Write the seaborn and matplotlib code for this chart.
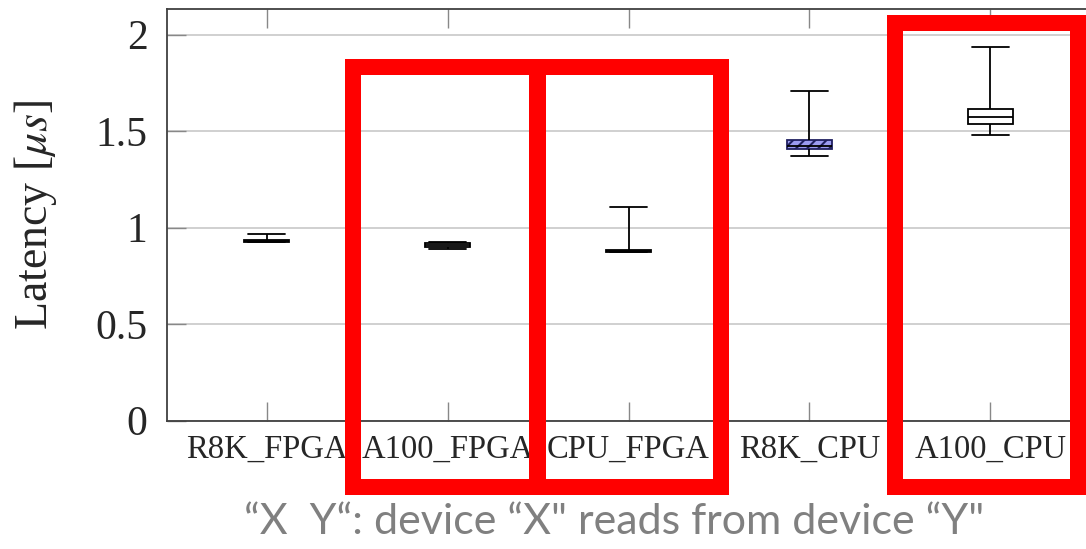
import pandas as pd
import numpy as np
import seaborn as sns
import matplotlib.pyplot as plt
from matplotlib.patches import Rectangle

# read direction "X_Y" : device X reads from device Y
links = ['R8K_FPGA', 'A100_FPGA', 'CPU_FPGA', 'R8K_CPU', 'A100_CPU']
# five number summaries (min, q1, median, q3, max), in us
lat_min = [0.926, 0.888, 0.874, 1.373, 1.480]
lat_q1 = [0.927, 0.902, 0.876, 1.408, 1.536]
lat_med = [0.932, 0.912, 0.879, 1.425, 1.572]
lat_q3 = [0.938, 0.922, 0.884, 1.454, 1.615]
lat_max = [0.966, 0.925, 1.109, 1.708, 1.938]
box_colors = ['white', 'white', 'white', '#9b9bf0', 'white']

y_ticks = [0, 0.5, 1, 1.5, 2]
caption = '\u201cX  Y\u201c: device \u201cX" reads from device \u201cY"'

rows = []
for i, name in enumerate(links):
    for v in (lat_min[i], lat_q1[i], lat_med[i], lat_q3[i], lat_max[i]):
        rows.append({'link': name, 'latency': v})
df = pd.DataFrame(rows)

sns.set_style('white')
plt.rcParams['font.family'] = ['Liberation Serif', 'DejaVu Serif']
plt.rcParams['mathtext.fontset'] = 'stix'
plt.rcParams['hatch.linewidth'] = 1.5

fig = plt.figure(figsize=(10.86, 5.49), dpi=100)
ax = fig.add_axes([167 / 1086, (549 - 420.7) / 549, (1090 - 167) / 1086, (420.7 - 9) / 549])

sns.boxplot(data=df, x='link', y='latency', order=links, hue='link', hue_order=links,
            palette=dict(zip(links, box_colors)), legend=False, saturation=1,
            whis=(0, 100), width=0.25, linecolor='black', linewidth=1.3,
            capwidths=0.2, ax=ax)

# hatched box for R8K_CPU
boxes = [p for p in ax.patches]
if len(boxes) == len(links):
    boxes[3].set_hatch('///')
    boxes[3].set_edgecolor('#202060')

ax.set_xlim(-0.55, 4.55)
ax.set_ylim(0, 2.133)
ax.set_yticks(y_ticks)
ax.set_yticklabels(['0', '0.5', '1', '1.5', '2'])
ax.yaxis.grid(True, color='#c8c8c8', linewidth=1.2)
ax.set_axisbelow(True)
ax.set_xlabel('')
ax.set_ylabel('Latency [$\\mathit{\\mu s}$]', fontsize=33, labelpad=26)
ax.tick_params(axis='x', direction='in', length=14, width=1, color='#888888',
               top=True, bottom=True, labelsize=23.5, pad=10)
ax.tick_params(axis='y', direction='in', length=14, width=1, color='#888888',
               left=True, right=True, labelsize=30, pad=14)
for s in ax.spines.values():
    s.set_color('#404040')
    s.set_linewidth(1.3)

# red highlight frames (pixel coordinates of the figure)
W, H = 1086, 549
lw_px = 16
frames = [(345, 59, 546, 495), (529, 59, 729, 495), (887, 15, 1086, 495)]
for x0, y0, x1, y1 in frames:
    fig.patches.append(Rectangle(((x0 + lw_px / 2) / W, 1 - (y1 - lw_px / 2) / H),
                                 (x1 - x0 - lw_px) / W, (y1 - y0 - lw_px) / H,
                                 transform=fig.transFigure, fill=False,
                                 edgecolor='#ff0000', linewidth=lw_px * 0.72, zorder=10))

fig.text(614 / W, 1 - 522 / H, caption, ha='center', va='center',
         fontsize=31, color='#808080', family=['Lato', 'DejaVu Sans'])

fig.savefig('out.png', dpi=100)
